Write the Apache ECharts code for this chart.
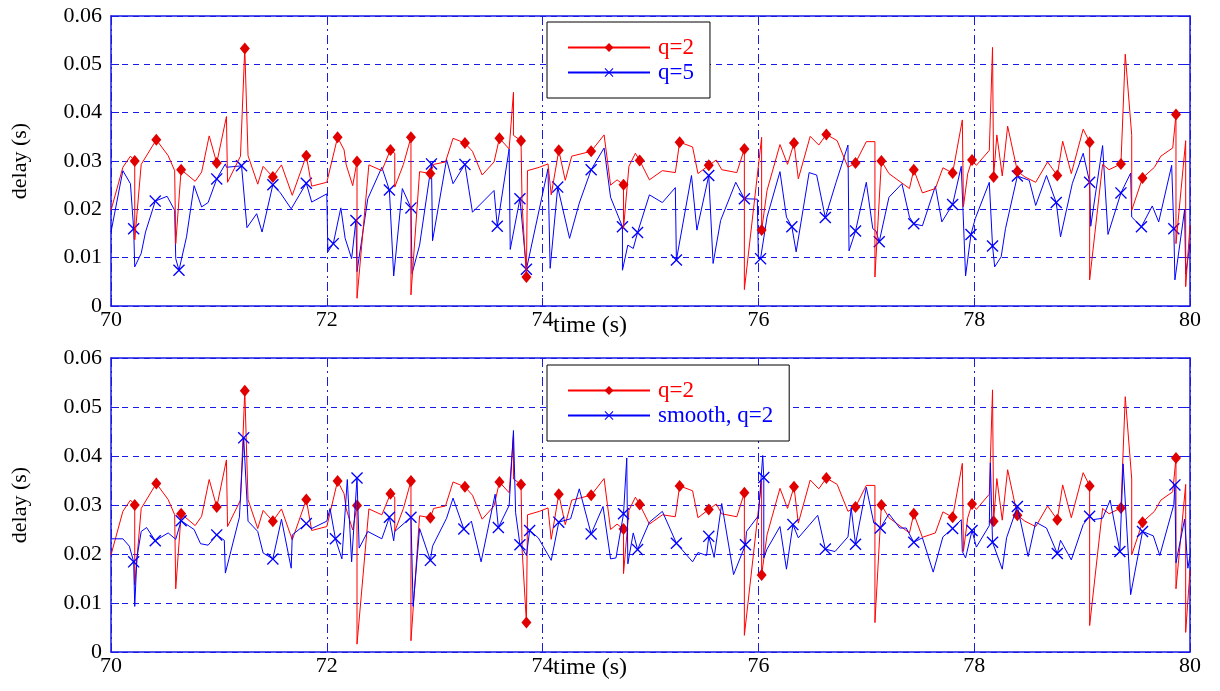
<!DOCTYPE html>
<html><head><meta charset="utf-8">
<script src="https://cdn.jsdelivr.net/npm/echarts@6/dist/echarts.min.js"></script>
<style>html,body{margin:0;padding:0;background:#fff}#c{width:1220px;height:691px}</style>
</head><body><div id="c"></div>
<script>
// ---- data (time s, delay s) ----
const redPts = [[70.00,0.0198],[70.11,0.0287],[70.18,0.0310],[70.22,0.0300],[70.22,0.0137],[70.28,0.0293],[70.42,0.0344],[70.53,0.0311],[70.59,0.0280],[70.60,0.0129],[70.65,0.0282],[70.78,0.0258],[70.84,0.0277],[70.91,0.0352],[70.98,0.0296],[71.07,0.0392],[71.08,0.0256],[71.20,0.0310],[71.24,0.0533],[71.27,0.0311],[71.36,0.0252],[71.41,0.0289],[71.50,0.0267],[71.58,0.0292],[71.68,0.0229],[71.81,0.0311],[71.86,0.0248],[72.00,0.0256],[72.10,0.0349],[72.16,0.0323],[72.18,0.0292],[72.24,0.0249],[72.28,0.0299],[72.28,0.0016],[72.39,0.0292],
[72.51,0.0280],[72.59,0.0323],[72.63,0.0316],[72.63,0.0246],[72.71,0.0293],[72.78,0.0349],[72.78,0.0023],[72.86,0.0278],[72.96,0.0274],[72.99,0.0293],[73.10,0.0298],[73.17,0.0347],[73.28,0.0337],[73.35,0.0320],[73.44,0.0271],[73.55,0.0298],[73.60,0.0347],[73.69,0.0325],[73.73,0.0442],[73.73,0.0353],[73.80,0.0342],[73.81,0.0210],[73.85,0.0060],[73.86,0.0280],[73.97,0.0287],[74.05,0.0294],[74.08,0.0230],[74.15,0.0322],[74.21,0.0260],[74.27,0.0310],[74.45,0.0320],[74.57,0.0354],[74.63,0.0250],[74.69,0.0261],[74.75,0.0251],[74.75,0.0160],[74.80,0.0289],[74.86,0.0316],[74.90,0.0301],
[74.99,0.0261],[75.11,0.0280],[75.23,0.0276],[75.27,0.0339],[75.39,0.0329],[75.44,0.0274],[75.54,0.0291],[75.61,0.0302],[75.66,0.0282],[75.80,0.0276],[75.87,0.0325],[75.87,0.0034],[76.03,0.0349],[76.03,0.0157],[76.08,0.0239],[76.20,0.0334],[76.27,0.0293],[76.33,0.0337],[76.37,0.0263],[76.48,0.0351],[76.56,0.0333],[76.63,0.0355],[76.73,0.0342],[76.83,0.0287],[76.90,0.0296],[77.00,0.0340],[77.08,0.0340],[77.08,0.0060],[77.14,0.0300],[77.21,0.0274],[77.40,0.0243],[77.44,0.0282],
[77.52,0.0234],[77.64,0.0243],[77.71,0.0286],[77.80,0.0275],[77.89,0.0385],[77.90,0.0205],[77.94,0.0274],[77.98,0.0302],[78.02,0.0291],[78.14,0.0322],[78.17,0.0535],[78.18,0.0267],[78.21,0.0354],[78.26,0.0269],[78.31,0.0372],[78.40,0.0279],[78.47,0.0267],[78.57,0.0256],[78.68,0.0298],[78.77,0.0270],[78.82,0.0341],[78.90,0.0274],[79.01,0.0366],[79.07,0.0339],[79.07,0.0054],[79.19,0.0293],[79.25,0.0282],[79.36,0.0294],[79.40,0.0521],[79.46,0.0353],[79.46,0.0198],[79.56,0.0265],[79.67,0.0287],[79.73,0.0310],[79.84,0.0327],[79.87,0.0396],[79.87,0.0129],[79.96,0.0342],[79.96,0.0040],[80.00,0.0167]];
const redMarks = [[70.22,0.0300],[70.42,0.0344],[70.65,0.0282],[70.98,0.0296],[71.24,0.0533],[71.50,0.0267],[71.81,0.0311],[72.10,0.0349],[72.28,0.0299],[72.59,0.0323],[72.78,0.0349],[72.96,0.0274],[73.28,0.0337],[73.60,0.0347],[73.80,0.0342],[73.85,0.0060],[74.15,0.0322],[74.45,0.0320],[74.75,0.0251],[74.90,0.0301],[75.27,0.0339],[75.54,0.0291],[75.87,0.0325],[76.03,0.0157],[76.33,0.0337],[76.63,0.0355],[76.90,0.0296],[77.14,0.0300],[77.44,0.0282],[77.80,0.0275],[77.98,0.0302],[78.18,0.0267],[78.40,0.0279],[78.77,0.0270],[79.07,0.0339],[79.36,0.0294],[79.56,0.0265],[79.87,0.0396]];

const q5Pts = [[70.00,0.0153],[70.11,0.0280],[70.18,0.0253],[70.21,0.0160],[70.22,0.0081],[70.28,0.0109],[70.32,0.0153],[70.41,0.0217],[70.52,0.0227],[70.59,0.0198],[70.60,0.0098],[70.63,0.0074],[70.70,0.0143],[70.77,0.0249],[70.84,0.0205],[70.90,0.0214],[70.98,0.0263],[71.06,0.0294],[71.07,0.0287],[71.21,0.0290],[71.26,0.0162],[71.35,0.0191],[71.40,0.0153],[71.50,0.0251],[71.57,0.0234],[71.67,0.0201],[71.81,0.0254],[71.86,0.0215],[72.00,0.0232],[72.01,0.0112],[72.06,0.0129],[72.13,0.0203],[72.17,0.0140],[72.23,0.0098],[72.27,0.0177],[72.28,0.0071],[72.38,0.0222],
[72.51,0.0287],[72.58,0.0240],[72.62,0.0062],[72.70,0.0243],[72.78,0.0203],[72.79,0.0067],[72.86,0.0126],[72.97,0.0294],[72.98,0.0135],[73.11,0.0303],[73.17,0.0253],[73.28,0.0293],[73.35,0.0194],[73.55,0.0239],[73.58,0.0165],[73.69,0.0325],[73.70,0.0117],[73.79,0.0222],[73.85,0.0076],[74.05,0.0284],[74.07,0.0078],[74.14,0.0246],[74.25,0.0140],[74.34,0.0213],[74.45,0.0282],[74.57,0.0327],[74.63,0.0225],[74.74,0.0164],[74.74,0.0074],[74.79,0.0126],[74.84,0.0119],[74.88,0.0152],
[74.99,0.0230],[75.11,0.0214],[75.23,0.0245],[75.24,0.0095],[75.38,0.0270],[75.43,0.0157],[75.54,0.0270],[75.58,0.0088],[75.65,0.0177],[75.79,0.0256],[75.87,0.0222],[75.99,0.0221],[76.00,0.0098],[76.02,0.0098],[76.08,0.0184],[76.20,0.0278],[76.26,0.0184],[76.31,0.0164],[76.35,0.0112],[76.47,0.0276],[76.54,0.0271],[76.62,0.0183],[76.72,0.0256],[76.83,0.0333],[76.84,0.0114],[76.90,0.0155],[77.00,0.0256],[77.06,0.0160],[77.09,0.0155],[77.12,0.0133],[77.21,0.0225],[77.33,0.0253],[77.40,0.0184],[77.44,0.0170],
[77.52,0.0166],[77.64,0.0248],[77.70,0.0174],[77.80,0.0210],[77.88,0.0289],[77.92,0.0062],[77.97,0.0148],[78.01,0.0181],[78.14,0.0256],[78.17,0.0124],[78.19,0.0081],[78.25,0.0102],[78.29,0.0160],[78.40,0.0269],[78.51,0.0260],[78.57,0.0208],[78.67,0.0270],[78.76,0.0214],[78.80,0.0143],[78.91,0.0254],[79.01,0.0316],[79.07,0.0256],[79.08,0.0165],[79.19,0.0332],[79.24,0.0148],[79.36,0.0234],[79.45,0.0275],[79.46,0.0184],[79.55,0.0164],[79.65,0.0207],[79.71,0.0174],[79.83,0.0291],[79.85,0.0160],[79.86,0.0054],[79.95,0.0199],[79.96,0.0066],[80.00,0.0129]];
const q5Marks = [[70.21,0.0160],[70.41,0.0217],[70.63,0.0074],[70.98,0.0263],[71.21,0.0290],[71.50,0.0251],[71.81,0.0254],[72.06,0.0129],[72.27,0.0177],[72.58,0.0240],[72.78,0.0203],[72.97,0.0294],[73.28,0.0293],[73.58,0.0165],[73.79,0.0222],[73.85,0.0076],[74.14,0.0246],[74.45,0.0282],[74.74,0.0164],[74.88,0.0152],[75.24,0.0095],[75.54,0.0270],[75.87,0.0222],[76.02,0.0098],[76.31,0.0164],[76.62,0.0183],[76.90,0.0155],[77.12,0.0133],[77.44,0.0170],[77.80,0.0210],[77.97,0.0148],[78.17,0.0124],[78.40,0.0269],[78.76,0.0214],[79.07,0.0256],[79.36,0.0234],[79.55,0.0164],[79.85,0.0160]];

const smoothPts = [[70.00,0.0231],[70.11,0.0231],[70.17,0.0216],[70.21,0.0184],[70.22,0.0093],[70.24,0.0192],[70.28,0.0246],[70.33,0.0254],[70.41,0.0227],[70.53,0.0243],[70.60,0.0230],[70.65,0.0268],[70.77,0.0250],[70.83,0.0221],[70.90,0.0218],[70.98,0.0239],[71.05,0.0228],[71.06,0.0161],[71.19,0.0275],[71.23,0.0437],[71.27,0.0267],[71.36,0.0246],[71.41,0.0202],[71.50,0.0190],[71.58,0.0271],[71.67,0.0171],[71.68,0.0239],[71.81,0.0262],[71.86,0.0252],[72.00,0.0267],[72.03,0.0293],[72.08,0.0231],[72.14,0.0190],[72.19,0.0352],[72.23,0.0184],[72.28,0.0355],[72.30,0.0212],[72.38,0.0246],
[72.51,0.0231],[72.58,0.0275],[72.62,0.0227],[72.63,0.0246],[72.78,0.0275],[72.80,0.0093],[72.86,0.0252],[72.96,0.0187],[72.98,0.0216],[73.11,0.0273],[73.17,0.0314],[73.27,0.0251],[73.34,0.0267],[73.43,0.0184],[73.56,0.0322],[73.59,0.0254],[73.69,0.0299],[73.73,0.0452],[73.75,0.0284],[73.79,0.0219],[73.85,0.0197],[73.88,0.0248],[73.96,0.0233],[74.08,0.0187],[74.15,0.0265],[74.26,0.0272],[74.34,0.0333],[74.45,0.0241],[74.56,0.0297],[74.63,0.0190],[74.68,0.0192],[74.75,0.0282],[74.78,0.0396],[74.79,0.0180],[74.84,0.0243],[74.88,0.0209],
[74.99,0.0265],[75.11,0.0287],[75.24,0.0222],[75.39,0.0184],[75.44,0.0203],[75.52,0.0197],[75.54,0.0236],[75.59,0.0193],[75.66,0.0303],[75.77,0.0158],[75.88,0.0219],[75.89,0.0246],[76.00,0.0278],[76.04,0.0401],[76.05,0.0356],[76.05,0.0192],[76.08,0.0210],[76.20,0.0256],[76.26,0.0169],[76.32,0.0260],[76.37,0.0233],[76.55,0.0279],[76.62,0.0210],[76.71,0.0205],[76.83,0.0235],[76.86,0.0294],[76.90,0.0220],[77.00,0.0336],[77.07,0.0263],[77.09,0.0261],[77.13,0.0253],[77.21,0.0282],[77.31,0.0253],[77.37,0.0253],[77.44,0.0224],
[77.52,0.0233],[77.62,0.0163],[77.71,0.0235],[77.80,0.0252],[77.88,0.0270],[77.89,0.0205],[77.92,0.0192],[77.98,0.0248],[78.02,0.0214],[78.14,0.0258],[78.15,0.0386],[78.17,0.0224],[78.26,0.0169],[78.30,0.0233],[78.40,0.0297],[78.50,0.0195],[78.57,0.0265],[78.67,0.0253],[78.77,0.0201],[78.80,0.0228],[78.90,0.0188],[79.01,0.0260],[79.07,0.0277],[79.10,0.0270],[79.19,0.0273],[79.26,0.0310],[79.35,0.0205],[79.38,0.0384],[79.45,0.0117],[79.56,0.0246],[79.66,0.0237],[79.72,0.0197],[79.85,0.0301],[79.86,0.0341],[79.87,0.0182],[79.95,0.0271],[79.98,0.0171],[80.00,0.0195]];
const smoothMarks = [[70.21,0.0184],[70.41,0.0227],[70.65,0.0268],[70.98,0.0239],[71.23,0.0437],[71.50,0.0190],[71.81,0.0262],[72.08,0.0231],[72.28,0.0355],[72.58,0.0275],[72.78,0.0275],[72.96,0.0187],[73.27,0.0251],[73.59,0.0254],[73.79,0.0219],[73.88,0.0248],[74.15,0.0265],[74.45,0.0241],[74.75,0.0282],[74.88,0.0209],[75.24,0.0222],[75.54,0.0236],[75.88,0.0219],[76.05,0.0356],[76.32,0.0260],[76.62,0.0210],[76.90,0.0220],[77.13,0.0253],[77.44,0.0224],[77.80,0.0252],[77.98,0.0248],[78.17,0.0224],[78.40,0.0297],[78.77,0.0201],[79.07,0.0277],[79.35,0.0205],[79.56,0.0246],[79.86,0.0341]];

const xTicks = [70, 72, 74, 76, 78, 80];
const yTicks = [0, 0.01, 0.02, 0.03, 0.04, 0.05, 0.06];
const topNames = ['q=2', 'q=5'];
const bottomNames = ['q=2', 'smooth, q=2'];
const xTitle = 'time (s)';
const yTitle = 'delay (s)';

// ---- styling ----
const RED = '#ff0000', RED_M = '#e00000', BLUE = '#0000ff', AX = '#1a1ae6';
const FONT = 'Liberation Serif';
const XSYM = 'path://M0,0.8L0.8,0L5,4.2L9.2,0L10,0.8L5.8,5L10,9.2L9.2,10L5,5.8L0.8,10L0,9.2L4.2,5Z';

function build(pts, marks) {
  const set = new Set(marks.map(p => p[0] + '|' + p[1]));
  return pts.map(p => set.has(p[0] + '|' + p[1]) ? {value: p} : {value: p, symbol: 'none'});
}

const grids = [
  {left: 111, top: 16, width: 1079, height: 290},
  {left: 111, top: 358, width: 1079, height: 294}
];

function xAx(gi, pos) {
  const main = pos === 'bottom';
  return {
    type: 'value', gridIndex: gi, position: pos,
    min: xTicks[0], max: xTicks[xTicks.length - 1], interval: xTicks[1] - xTicks[0],
    axisLine: {show: true, onZero: false, lineStyle: {color: AX, width: 1.5}},
    axisTick: {show: true, inside: true, length: 8, lineStyle: {color: AX}},
    axisLabel: {show: main, color: '#000', fontFamily: FONT, fontSize: 22, margin: 3},
    splitLine: {show: main, lineStyle: {color: AX, width: 1, type: [9, 4, 2, 4]}}
  };
}
function yAx(gi, pos) {
  const main = pos === 'left';
  return {
    type: 'value', gridIndex: gi, position: pos,
    min: yTicks[0], max: yTicks[yTicks.length - 1], interval: 0.01,
    name: main ? yTitle : '', nameLocation: 'middle', nameRotate: 90, nameGap: 80,
    nameTextStyle: {color: '#000', fontFamily: FONT, fontSize: 22},
    axisLine: {show: true, lineStyle: {color: AX, width: 1.5}},
    axisTick: {show: true, inside: true, length: 8, lineStyle: {color: AX}},
    axisLabel: {show: main, color: '#000', fontFamily: FONT, fontSize: 22, margin: 9,
      formatter: v => v === 0 ? '0' : v.toFixed(2)},
    splitLine: {show: main, lineStyle: {color: AX, width: 1, type: [6, 5]}}
  };
}

function legend(top, names, colors, padRight) {
  return {
    orient: 'vertical', left: 547, top: top,
    itemWidth: 82, itemHeight: 11, itemGap: 2,
    padding: [14, padRight, 14, 20],
    backgroundColor: '#fff', borderColor: '#000', borderWidth: 1,
    textStyle: {fontFamily: FONT, fontSize: 23, padding: [0, 0, 0, 3]},
    data: names.map((n, i) => ({name: n, textStyle: {color: colors[i]}}))
  };
}

const redLine = (xi, yi) => ({
  name: topNames[0], type: 'line', xAxisIndex: xi, yAxisIndex: yi,
  data: build(redPts, redMarks), symbol: 'diamond', symbolSize: [10, 12],
  lineStyle: {color: RED, width: 1}, itemStyle: {color: RED_M},
  z: 3, animation: false
});

const option = {
  animation: false,
  grid: grids,
  xAxis: [xAx(0, 'bottom'), xAx(0, 'top'), xAx(1, 'bottom'), xAx(1, 'top')],
  yAxis: [yAx(0, 'left'), yAx(0, 'right'), yAx(1, 'left'), yAx(1, 'right')],
  legend: [legend(22, topNames, [RED, BLUE], 16), legend(365, bottomNames, [RED, BLUE], 16)],
  series: [
    {name: topNames[1], type: 'line', xAxisIndex: 0, yAxisIndex: 0,
     data: build(q5Pts, q5Marks), symbol: XSYM, symbolSize: 12,
     lineStyle: {color: BLUE, width: 1}, itemStyle: {color: BLUE}, z: 2},
    redLine(0, 0),
    {name: bottomNames[1], type: 'line', xAxisIndex: 2, yAxisIndex: 2,
     data: build(smoothPts, smoothMarks), symbol: XSYM, symbolSize: 12,
     lineStyle: {color: BLUE, width: 1}, itemStyle: {color: BLUE}, z: 4},
    redLine(2, 2)
  ],
  graphic: [
    {type: 'text', left: 553, top: 314, style: {text: xTitle, font: '24px ' + FONT, fill: '#000'}},
    {type: 'text', left: 553, top: 656, style: {text: xTitle, font: '24px ' + FONT, fill: '#000'}}
  ]
};

const chart = echarts.init(document.getElementById('c'), null, {renderer: 'canvas'});
chart.setOption(option);
</script>
</body></html>
